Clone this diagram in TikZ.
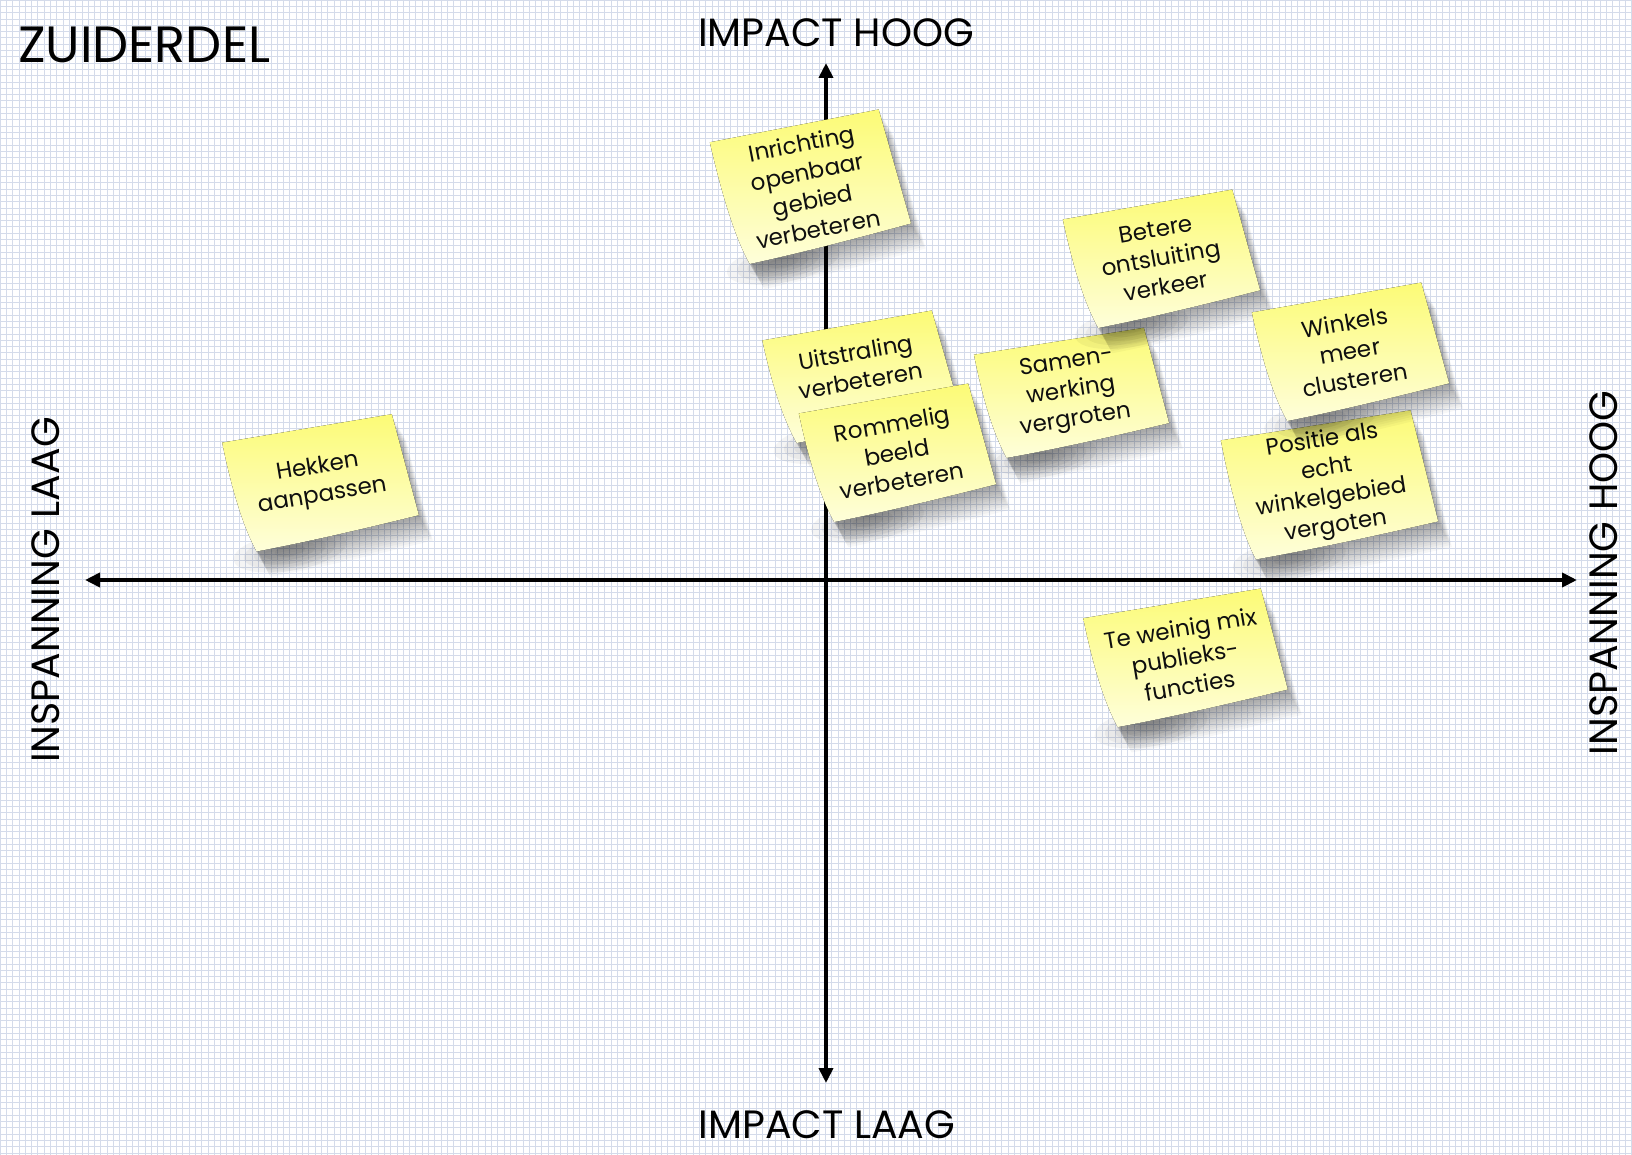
\documentclass[tikz,border=0pt]{standalone}
\usepackage{fontspec}
\newfontfamily\labelfont{Poppins}
\newfontfamily\notefont{Poppins}
\usetikzlibrary{arrows.meta}
\definecolor{gridc}{RGB}{212,219,234}
\definecolor{notetop}{RGB}{252,251,118}
\definecolor{notebot}{RGB}{254,254,218}
\definecolor{inkc}{RGB}{15,15,15}
\tikzset{
  axisline/.style={line width=4.5pt, black, {Triangle[length=15pt,width=14pt]}-{Triangle[length=15pt,width=14pt]}},
  biglabel/.style={font=\labelfont\fontsize{39.5}{42}\selectfont, inner sep=0pt, text=black},
  titlelabel/.style={font=\labelfont\fontsize{51}{54}\selectfont, inner sep=0pt, text=black},
  notetext/.style={font=\notefont\fontsize{23}{29}\selectfont, align=center, inner sep=0pt, text=inkc},
  notefill/.style={top color=notetop, bottom color=notebot},
  gridline/.style={draw=gridc, line width=0.7pt},
}
\newcommand{\notepath}[2]{({-#1-4},{#2}) -- ({#1-4},{#2}) -- ({#1+6},{-#2+6}) .. controls ({0.3*#1},{-#2+1}) and ({-0.3*#1},{-#2-2}) .. ({-#1+12},{-#2-3}) .. controls ({-#1+4},{-#2+20}) and ({-#1-2},0) .. ({-#1-4},{#2}) -- cycle}
\newcommand{\stickynote}[8][0]{%
  \begin{scope}[shift={(#3,-#4)}, rotate=#5]
    \foreach \k in {1,...,12}{\fill[black, opacity=0.032, shift={({0.8*\k},{-2.2*\k-1})}] \notepath{#6}{#7};}
    \foreach \r in {6,10,14,18,22}{\fill[black, opacity=0.045] ({-#6+45},{-#7-8}) ellipse ({\r*2.6} and {\r*0.9});}
    \fill[notefill] \notepath{#6}{#7};
    \node[notetext, rotate=#5] (#2) at (0,#1) {#8};
  \end{scope}}
\begin{document}
\begin{tikzpicture}[x=1pt,y=1pt]
  \useasboundingbox (0,0) rectangle (1632,-1155);
  \fill[white] (0,0) rectangle (1632,-1155);
  \draw[gridline, step=6.3] (0,-1155) grid (1632,0);

  % axes
  \coordinate (L) at (85,-580);
  \coordinate (R) at (1577,-580);
  \coordinate (T) at (826,-63);
  \coordinate (B) at (826,-1083);
  \draw[axisline] (L) -- (R);
  \draw[axisline] (B) -- (T);

  % labels
  \node[titlelabel, anchor=base west] (title) at (18,-63) {ZUIDERDEL};
  \node[biglabel, anchor=base] (ih) at (836,-47) {IMPACT HOOG};
  \node[biglabel, anchor=base] (il) at (827,-1138) {IMPACT LAAG};
  \node[biglabel, anchor=base, rotate=90] (sl) at (59,-590) {INSPANNING LAAG};
  \node[biglabel, anchor=base, rotate=90] (sh) at (1617,-573) {INSPANNING HOOG};

  % sticky notes
  \stickynote{n1}{810}{186}{11}{86}{62}{Inrichting\\openbaar\\gebied\\verbeteren}
  \stickynote{n5}{1071}{392}{9}{86}{52}{Samen-\\werking\\vergroten}
  \stickynote{n2}{1161}{258}{10}{86}{55}{Betere\\ontsluiting\\verkeer}
  \stickynote{n4}{1329}{484}{9}{96}{60}{Positie als\\echt\\winkelgebied\\vergoten}
  \stickynote{n3}{1350}{351}{10}{86}{55}{Winkels\\meer\\clusteren}
  \stickynote[10]{n6}{860}{376}{10}{86}{52}{Uitstraling\\verbeteren}
  \stickynote{n7}{897}{452}{10}{86}{55}{Rommelig\\beeld\\verbeteren}
  \stickynote{n8}{320}{482}{9.5}{86}{55}{Hekken\\aanpassen}
  \stickynote{n9}{1185}{657}{9.5}{90}{55}{Te weinig mix\\publieks-\\functies}
\end{tikzpicture}
\end{document}
